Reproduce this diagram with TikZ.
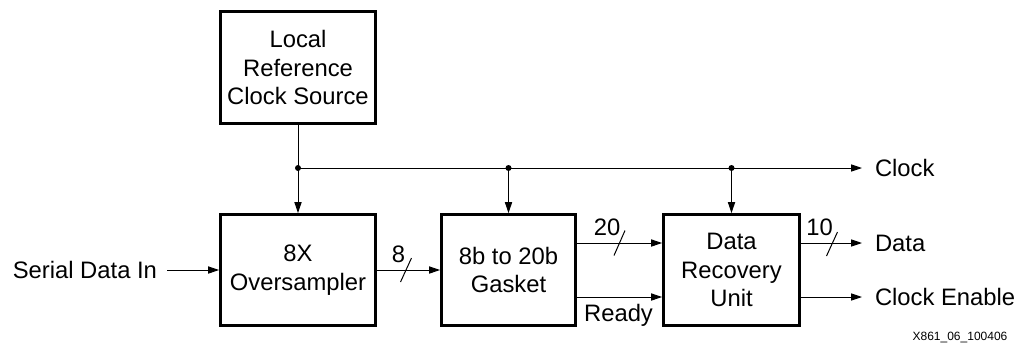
\documentclass[tikz,border=0pt]{standalone}
\usepackage{fontspec}
\setmainfont{Liberation Sans}
\usetikzlibrary{arrows.meta}

\begin{document}
\begin{tikzpicture}[x=0.5pt, y=0.5pt, >={Triangle[length=5.5pt, width=3.6pt]},
	blocco/.style={draw, line width=1.4pt, align=center, inner sep=2pt, font=\fontsize{11.9}{14.3}\selectfont},
	link/.style={->, line width=0.5pt},
	filo/.style={line width=0.5pt},
	bus/.style={line width=0.5pt},
	nodo/.style={circle, fill, inner sep=0pt, minimum size=3pt},
	etichetta/.style={font=\fontsize{11.9}{14.3}\selectfont, inner sep=0pt},
	codice/.style={font=\fontsize{6}{7}\selectfont, inner sep=0pt}]

	\useasboundingbox (0,0) rectangle (1028,345);

	% blocchi
	\node[blocco, minimum width=77.5pt, minimum height=56pt] (lrcs) at (298,277.5) {Local\\Reference\\Clock Source};
	\node[blocco, minimum width=77.5pt, minimum height=55.5pt] (ovs) at (298,75) {8X\\Oversampler};
	\node[blocco, minimum width=67pt, minimum height=55.5pt] (gsk) at (508.5,75) {8b to 20b\\Gasket};
	\node[blocco, minimum width=68pt, minimum height=55.5pt] (dru) at (731.5,75) {Data\\Recovery\\Unit};

	% ingressi e uscite
	\node[etichetta, anchor=east, outer sep=5pt] (sdi) at (167,75) {Serial Data In};
	\node[etichetta, anchor=west, outer sep=6.5pt] (clk) at (862,177) {Clock};
	\node[etichetta, anchor=west, outer sep=6.5pt] (dat) at (862,102) {Data};
	\node[etichetta, anchor=west, outer sep=6.5pt] (cen) at (862,48) {Clock Enable};

	% distribuzione del clock
	\coordinate (jA) at (298,177);
	\coordinate (jB) at (gsk.north |- jA);
	\coordinate (jC) at (dru.north |- jA);
	\draw[filo] (lrcs) -- (jA);
	\draw[link] (jA) -- (ovs);
	\draw[link] (jB) -- (gsk);
	\draw[link] (jC) -- (dru);
	\draw[link] (jA) -- (clk);
	\node[nodo] (dA) at (jA) {};
	\node[nodo] (dB) at (jB) {};
	\node[nodo] (dC) at (jC) {};

	% dati
	\draw[link] (sdi) -- (ovs);
	\draw[link] (ovs) -- (gsk);
	\draw[link] ([yshift=13.5pt]gsk.east) -- ([yshift=13.5pt]dru.west);
	\draw[link] ([yshift=-13.5pt]gsk.east) -- ([yshift=-13.5pt]dru.west);
	\draw[link] ([yshift=13.5pt]dru.east) -- (dat);
	\draw[link] ([yshift=-13.5pt]dru.east) -- (cen);

	% larghezza dei bus
	\draw[bus] (400.5,63) -- (411.5,87);
	\draw[bus] (614,89.5) -- (625,114.5);
	\draw[bus] (826.5,89) -- (837.5,113);
	\node[etichetta, anchor=base] (w8) at (398.5,83) {8};
	\node[etichetta, anchor=base] (w20) at (607,110) {20};
	\node[etichetta, anchor=base] (w10) at (819.5,110) {10};
	\node[etichetta, anchor=base] (rdy) at (618.5,24) {Ready};

	% codice figura
	\node[codice] (fig) at (960,8) {X861\_06\_100406};
\end{tikzpicture}
\end{document}
